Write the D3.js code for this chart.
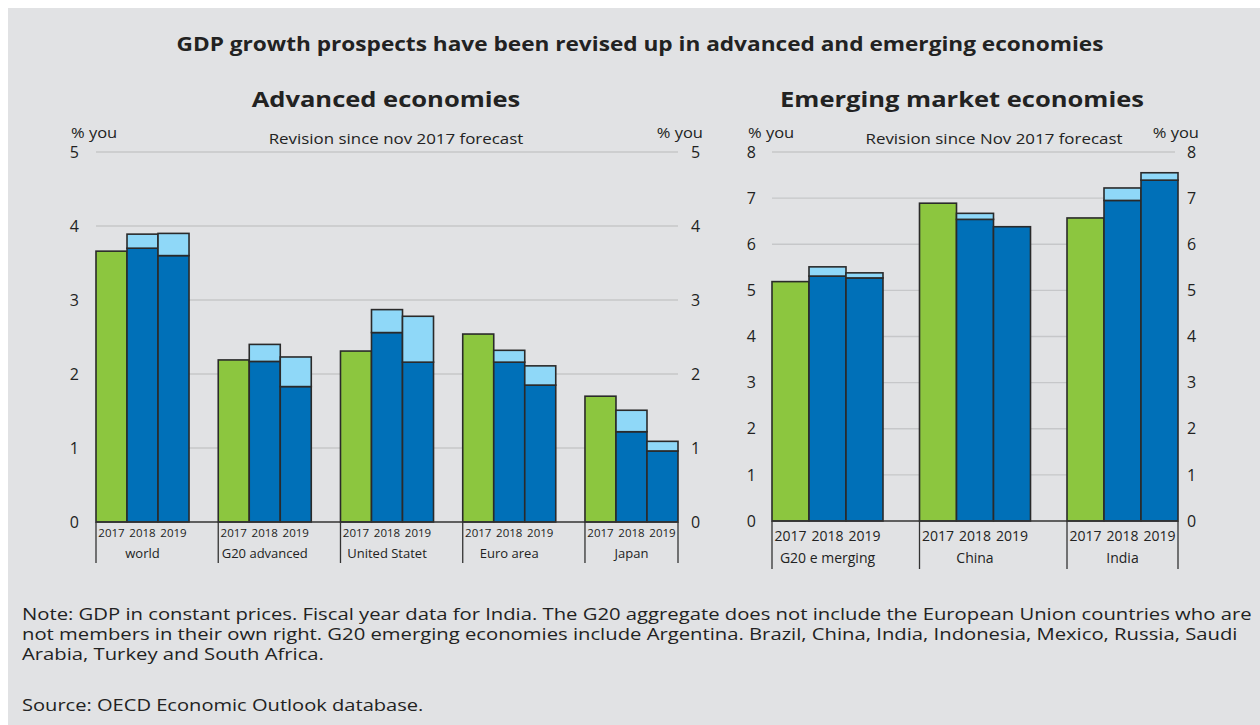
<!DOCTYPE html>
<html><head><meta charset="utf-8">
<script src="https://cdn.jsdelivr.net/npm/d3@7"></script>
<style>body{margin:0;background:#fff;}svg{display:block;}</style>
</head><body>
<svg id="c" width="1260" height="725"></svg>
<script>
const years = ["2017", "2018", "2019"];
const advCategories = ["world", "G20 advanced", "United Statet", "Euro area", "Japan"];
const adv2017 = [3.66, 2.19, 2.31, 2.54, 1.70];
const advNov2018 = [3.70, 2.17, 2.56, 2.16, 1.22];
const advNov2019 = [3.60, 1.83, 2.16, 1.85, 0.96];
const advCur2018 = [3.89, 2.40, 2.87, 2.32, 1.51];
const advCur2019 = [3.90, 2.23, 2.78, 2.11, 1.09];
const advTicks = [0, 1, 2, 3, 4, 5];

const emCategories = ["G20 e merging", "China", "India"];
const em2017 = [5.19, 6.89, 6.57];
const emNov2018 = [5.31, 6.54, 6.95];
const emNov2019 = [5.27, 6.38, 7.39];
const emCur2018 = [5.51, 6.67, 7.22];
const emCur2019 = [5.38, 6.38, 7.55];
const emTicks = [0, 1, 2, 3, 4, 5, 6, 7, 8];

const C = {green: "#8cc63f", dark: "#0070b8", light: "#8fd8f8", stroke: "#2a2a2a", grid: "#c6c7c9", text: "#222"};
const FONT = "'Open Sans', sans-serif";

const svg = d3.select("#c");
svg.append("rect").attr("x", 8).attr("y", 8).attr("width", 1252).attr("height", 717).attr("fill", "#e1e2e4");

// stretch a text horizontally by a factor (the reference is slightly wide-set)
function stretch(sel, f) {
  sel.each(function () {
    const w = this.getComputedTextLength();
    d3.select(this).attr("textLength", w * f).attr("lengthAdjust", "spacingAndGlyphs");
  });
  return sel;
}

stretch(svg.append("text").attr("x", 640).attr("y", 51).attr("text-anchor", "middle")
  .attr("font-family", FONT).attr("font-weight", "bold").attr("font-size", 19.5).attr("fill", C.text)
  .text("GDP growth prospects have been revised up in advanced and emerging economies"), 1.16);

function panel(o) {
  const g = svg.append("g");
  const y = d3.scaleLinear().domain([0, o.max]).range([o.y0, o.y1]);
  const xg = d3.scaleBand().domain(o.cats).range([o.x0, o.x1]).paddingInner(o.pad).paddingOuter(0);
  const xy = d3.scaleBand().domain(years).range([0, xg.bandwidth()]).padding(0);

  g.selectAll(".grid").data(o.ticks.filter(t => t > 0)).join("line")
    .attr("x1", o.x0).attr("x2", o.gx1).attr("y1", d => y(d)).attr("y2", d => y(d))
    .attr("stroke", C.grid).attr("stroke-width", 1.3);

  const la = d3.axisLeft(y).tickValues(o.ticks).tickSize(0).tickPadding(0).tickFormat(d3.format("d"));
  const lg = g.append("g").attr("transform", `translate(${o.lx},0)`).call(la);
  const ra = d3.axisRight(y).tickValues(o.ticks).tickSize(0).tickPadding(0).tickFormat(d3.format("d"));
  const rg = g.append("g").attr("transform", `translate(${o.rx},0)`).call(ra);
  [lg, rg].forEach(a => {
    a.select(".domain").remove();
    a.selectAll("text").attr("font-family", FONT).attr("font-size", 16).attr("fill", C.text);
  });

  stretch(g.append("text").attr("x", o.lx - 8).attr("y", o.y1 - 14).attr("font-family", FONT).attr("font-size", 15).attr("fill", C.text).text("% you"), 1.1);
  stretch(g.append("text").attr("x", o.rx + 12).attr("y", o.y1 - 14).attr("text-anchor", "end").attr("font-family", FONT).attr("font-size", 15).attr("fill", C.text).text("% you"), 1.1);

  stretch(g.append("text").attr("x", o.tx).attr("y", 107).attr("text-anchor", "middle").attr("font-family", FONT)
    .attr("font-weight", "bold").attr("font-size", o.tsize).attr("fill", C.text).text(o.title), 1.16);
  stretch(g.append("text").attr("x", o.sx).attr("y", 144).attr("text-anchor", "middle").attr("font-family", FONT)
    .attr("font-size", 14.5).attr("fill", C.text).text(o.sub), 1.165);

  o.cats.forEach((cat, i) => {
    const gx = xg(cat);
    const base = y(0);
    const bars = [
      {yr: "2017", v0: 0, v1: o.v2017[i], c: C.green},
      {yr: "2018", v0: 0, v1: o.nov18[i], c: C.dark},
      {yr: "2018", v0: o.nov18[i], v1: o.cur18[i], c: C.light},
      {yr: "2019", v0: 0, v1: o.nov19[i], c: C.dark},
      {yr: "2019", v0: o.nov19[i], v1: o.cur19[i], c: C.light}
    ].filter(b => b.v1 - b.v0 > 0.001);
    g.selectAll(null).data(bars).join("rect")
      .attr("x", b => gx + xy(b.yr)).attr("width", xy.bandwidth())
      .attr("y", b => y(b.v1)).attr("height", b => y(b.v0) - y(b.v1))
      .attr("fill", b => b.c).attr("stroke", C.stroke).attr("stroke-width", 1.6);
    g.selectAll(null).data(years).join("text")
      .attr("x", d => gx + xy(d) + xy.bandwidth() / 2).attr("y", base + o.yrOff)
      .attr("text-anchor", "middle").attr("font-family", FONT).attr("font-size", o.yrSize).attr("fill", C.text)
      .text(d => d);
    g.append("text").attr("x", gx + xg.bandwidth() / 2).attr("y", base + o.catOff)
      .attr("text-anchor", "middle").attr("font-family", FONT).attr("font-size", o.catSize).attr("fill", C.text)
      .text(cat);
  });

  const base = y(0);
  g.append("line").attr("x1", o.x0).attr("x2", o.x1).attr("y1", base).attr("y2", base).attr("stroke", "#333").attr("stroke-width", 1.5);
  const seps = o.cats.map(c => xg(c)).concat([o.x1]);
  g.selectAll(null).data(seps).join("line")
    .attr("x1", d => d).attr("x2", d => d).attr("y1", base).attr("y2", base + o.sepLen)
    .attr("stroke", "#333").attr("stroke-width", 1.3);
}

panel({
  cats: advCategories, max: 5, ticks: advTicks, y0: 522, y1: 152,
  x0: 96, x1: 678, gx1: 678, pad: 0.239, lx: 79, rx: 691,
  v2017: adv2017, nov18: advNov2018, nov19: advNov2019, cur18: advCur2018, cur19: advCur2019,
  title: "Advanced economies", tx: 386, tsize: 22, sub: "Revision since nov 2017 forecast", sx: 396,
  yrOff: 15, yrSize: 11.5, catOff: 36, catSize: 13, sepLen: 41
});
panel({
  cats: emCategories, max: 8, ticks: emTicks, y0: 521, y1: 152,
  x0: 772, x1: 1178, gx1: 1175, pad: 0.2475, lx: 756, rx: 1187,
  v2017: em2017, nov18: emNov2018, nov19: emNov2019, cur18: emCur2018, cur19: emCur2019,
  title: "Emerging market economies", tx: 962, tsize: 22, sub: "Revision since Nov 2017 forecast", sx: 994,
  yrOff: 20, yrSize: 14, catOff: 42, catSize: 14, sepLen: 48
});

const notes = [
  "Note: GDP in constant prices. Fiscal year data for India. The G20 aggregate does not include the European Union countries who are",
  "not members in their own right. G20 emerging economies include Argentina. Brazil, China, India, Indonesia, Mexico, Russia, Saudi",
  "Arabia, Turkey and South Africa."
];
stretch(svg.selectAll(".note").data(notes).join("text").attr("class", "note")
  .attr("x", 22).attr("y", (d, i) => 620 + i * 20)
  .attr("font-family", FONT).attr("font-size", 16).attr("fill", C.text).text(d => d), 1.265);
stretch(svg.append("text").attr("x", 22).attr("y", 711).attr("font-family", FONT).attr("font-size", 16).attr("fill", C.text)
  .text("Source: OECD Economic Outlook database."), 1.255);
</script>
</body></html>
